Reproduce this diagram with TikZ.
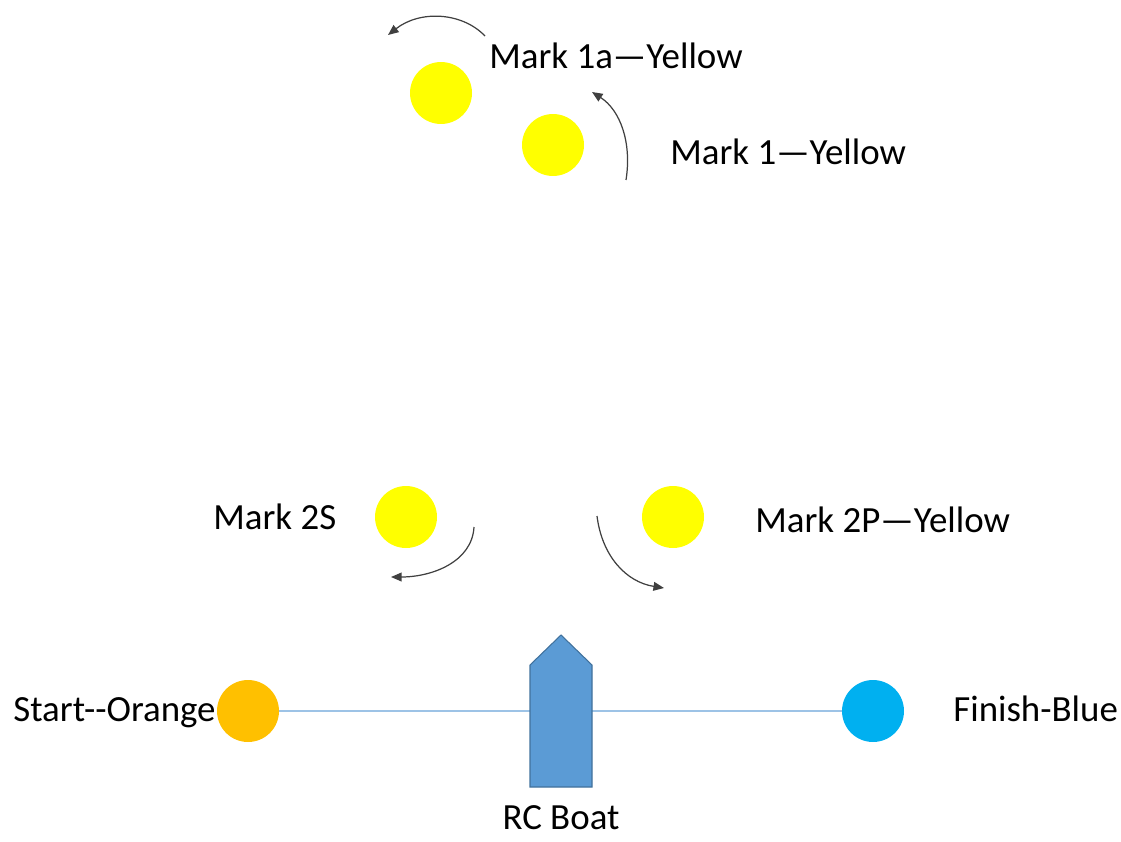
\documentclass[tikz,border=0pt]{standalone}
\usepackage{fontspec}
\setmainfont{Carlito}
\usepackage{xcolor}
\definecolor{m_yellow}{HTML}{FFFF00}
\definecolor{m_orange}{HTML}{FFC000}
\definecolor{m_blue}{HTML}{00B0F0}
\definecolor{m_boat}{HTML}{5B9BD5}
\definecolor{m_boatline}{HTML}{41719C}
\definecolor{m_line}{HTML}{9DC3E6}
\usepackage{tikz}
\usetikzlibrary{positioning,arrows.meta}

\begin{document}
\begin{tikzpicture}[
        x=0.02cm, y=-0.02cm,
        font=\fontsize{21}{25}\selectfont,
        buoy/.style={circle,minimum size=1.24cm,inner sep=0pt},
        caption/.style={anchor=base west,inner sep=0pt},
        turn/.style={draw=black!75,line width=0.7pt,-{Triangle[length=6pt,width=5pt]}}]
    ]
        \useasboundingbox (0,0) rectangle (1121,841);
        % marks
        \node[buoy,fill=m_yellow] (M1a) at (441,93) {};
        \node[buoy,fill=m_yellow] (M1) at (553,145) {};
        \node[buoy,fill=m_yellow] (M2S) at (406,517) {};
        \node[buoy,fill=m_yellow] (M2P) at (673,517) {};
        \node[buoy,fill=m_orange] (S) at (248,711) {};
        \node[buoy,fill=m_blue] (F) at (873,711) {};
        \node[caption] (M1a-t) at (489,69) {Mark 1a—Yellow};
        \node[caption] (M1-t) at (670,165) {Mark 1—Yellow};
        \node[caption] (M2S-t) at (213,529) {Mark 2S};
        \node[caption] (M2P-t) at (755,532) {Mark 2P—Yellow};
        \node[caption] (S-t) at (13,721) {Start-{}-Orange};
        \node[caption] (F-t) at (953,721) {Finish-Blue};
        % start line and boat
        \draw[m_line,line width=0.6pt] (S) -- (F);
        \draw[fill=m_boat,draw=m_boatline,line width=0.6pt]
            (530,787) -- (530,665) -- (561,635) -- (592,665) -- (592,787) -- cycle;
        \node[anchor=base,inner sep=0pt] (B-t) at (561,829) {RC Boat};
        % rounding arrows
        \coordinate (r1a-a) at (485,36);
        \coordinate (r1a-b) at (388,35);
        \coordinate (r1-a) at (626,180);
        \coordinate (r1-b) at (592,92);
        \coordinate (r2S-a) at (474,527);
        \coordinate (r2S-b) at (391,577);
        \coordinate (r2P-a) at (597,516);
        \coordinate (r2P-b) at (664,588);
        \draw[turn] (r1a-a) .. controls (462,12) and (420,10) .. (r1a-b);
        \draw[turn] (r1-a) .. controls (632,142) and (620,110) .. (r1-b);
        \draw[turn] (r2S-a) .. controls (472,562) and (432,577) .. (r2S-b);
        \draw[turn] (r2P-a) .. controls (602,556) and (626,582) .. (r2P-b);
\end{tikzpicture}
\end{document}
